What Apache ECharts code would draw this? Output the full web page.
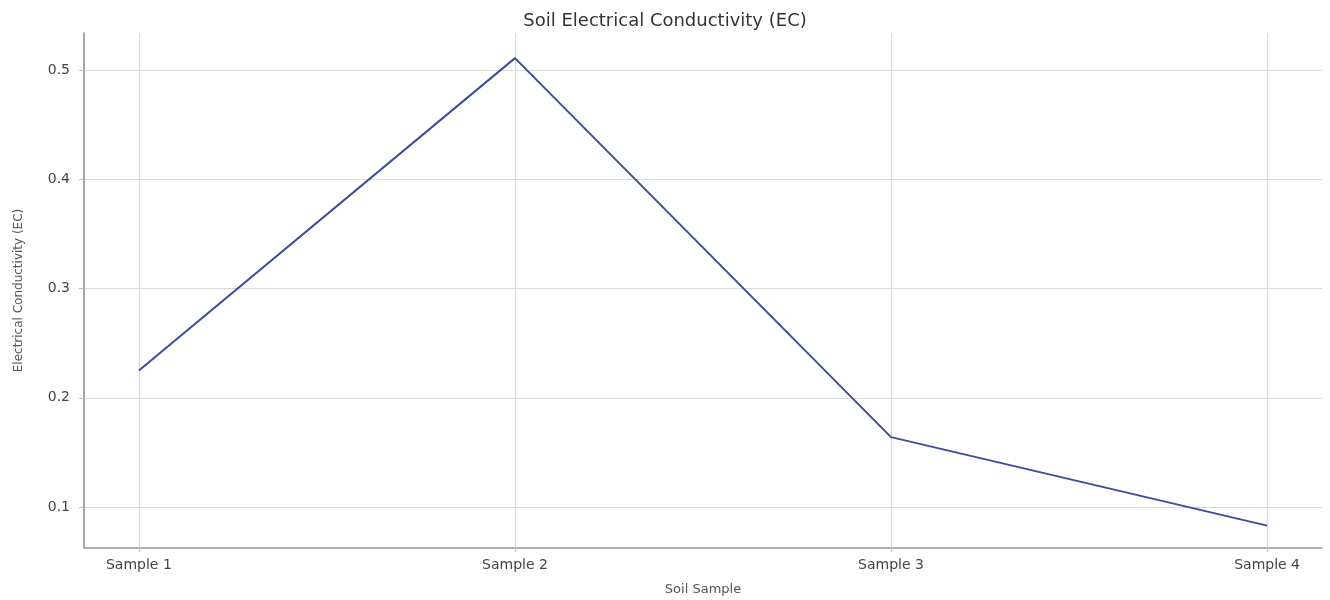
<!DOCTYPE html>
<html>
<head>
<meta charset="utf-8">
<script src="https://cdn.jsdelivr.net/npm/echarts@6/dist/echarts.min.js"></script>
<style>
html,body{margin:0;padding:0;background:#fff;}
#chart{width:1330px;height:600px;}
</style>
</head>
<body>
<div id="chart"></div>
<script>
const categories = ['Sample 1', 'Sample 2', 'Sample 3', 'Sample 4'];
const ecValues = [0.225, 0.511, 0.164, 0.083];
const yTicks = [0.1, 0.2, 0.3, 0.4, 0.5];
const xTicks = [0, 1, 2, 3];

const chart = echarts.init(document.getElementById('chart'));
const font = '"DejaVu Sans", "Noto Sans", sans-serif';
chart.setOption({
  animation: false,
  title: {
    text: 'Soil Electrical Conductivity (EC)',
    left: 'center', top: 7,
    textStyle: { fontFamily: font, fontSize: 18, fontWeight: 'normal', color: '#333' }
  },
  grid: { left: 84, right: 8, top: 33, bottom: 52, outerBoundsMode: 'none', containLabel: false },
  xAxis: {
    type: 'value',
    min: -0.146, max: 3.146,
    name: 'Soil Sample', nameLocation: 'middle', nameGap: 35,
    nameTextStyle: { fontFamily: font, fontSize: 13, color: '#555' },
    axisLine: { show: true, onZero: false, lineStyle: { color: '#999', width: 1.5 } },
    axisTick: { show: true, customValues: xTicks, length: 4, lineStyle: { color: '#bbb' } },
    axisLabel: {
      customValues: xTicks, margin: 10,
      fontFamily: font, fontSize: 14, color: '#444',
      formatter: v => categories[Math.round(v)] || ''
    },
    splitLine: { show: true, lineStyle: { color: '#d9d9d9', width: 1.2 } }
  },
  yAxis: {
    type: 'value',
    min: 0.0625, max: 0.534,
    name: 'Electrical Conductivity (EC)', nameLocation: 'middle', nameGap: 59,
    nameTextStyle: { fontFamily: font, fontSize: 12, color: '#555' },
    axisLine: { show: true, onZero: false, lineStyle: { color: '#888', width: 1.5 } },
    axisTick: { show: true, customValues: yTicks, length: 5, lineStyle: { color: '#bbb' } },
    axisLabel: {
      customValues: yTicks, margin: 14,
      fontFamily: font, fontSize: 14, color: '#444',
      formatter: v => v.toFixed(1)
    },
    splitLine: { show: true, lineStyle: { color: '#d9d9d9', width: 1.2 } }
  },
  series: [{
    type: 'line',
    data: ecValues.map((v, i) => [i, v]),
    showSymbol: false,
    lineStyle: { color: '#3b4d9c', width: 2 },
    itemStyle: { color: '#3b4d9c' }
  }]
});
</script>
</body>
</html>
